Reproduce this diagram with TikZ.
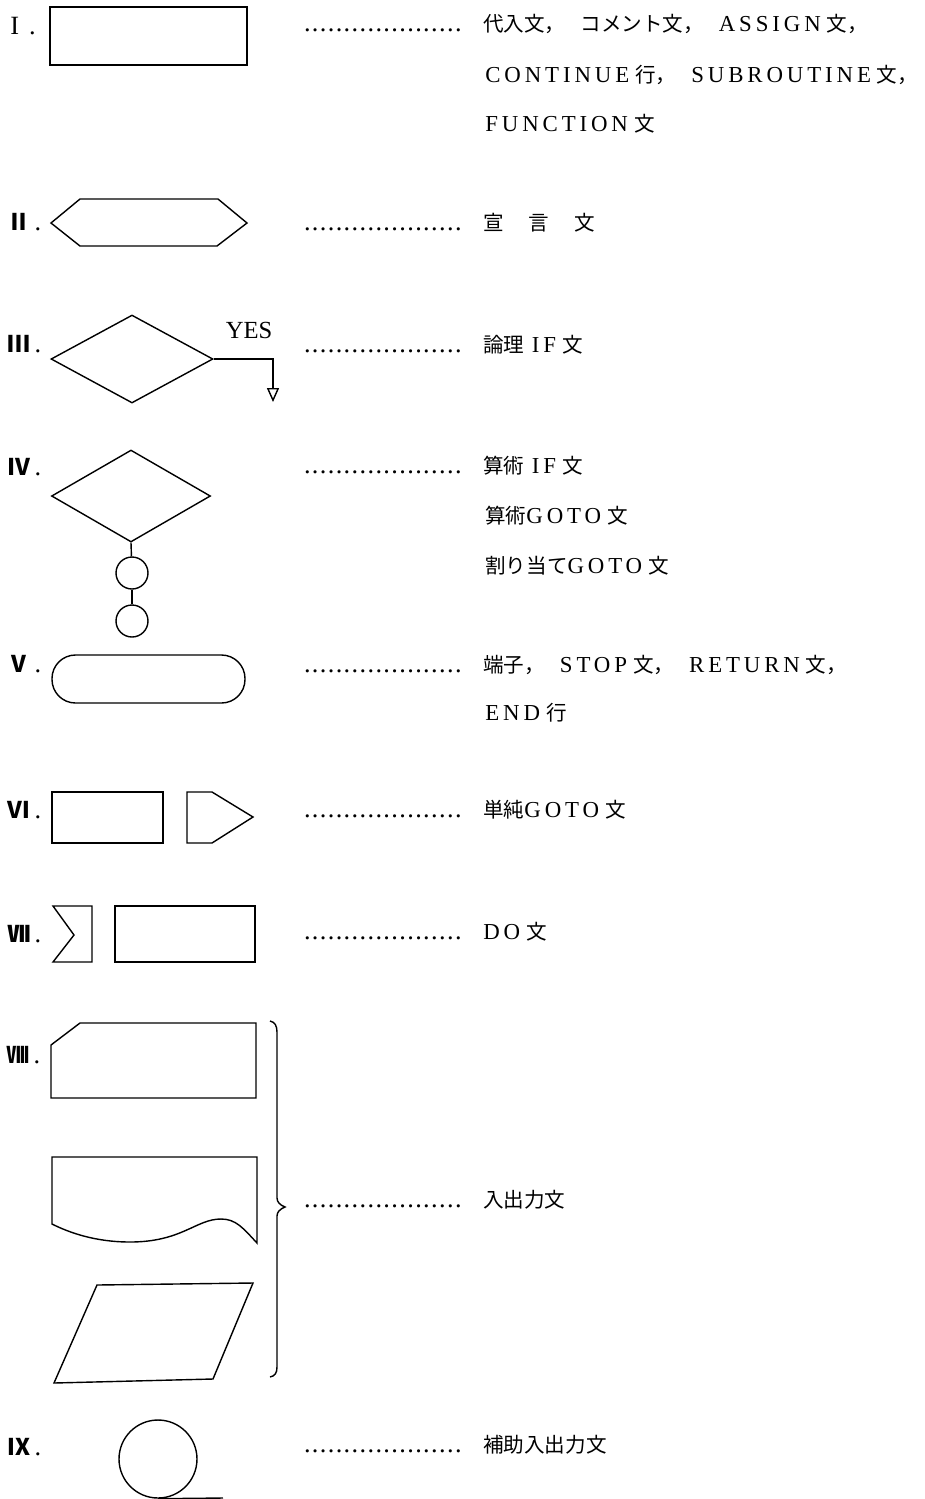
\documentclass[tikz,border=0pt]{standalone}
\usepackage{fontspec}
\setmainfont{Liberation Serif}[LetterSpace=17]
\newfontfamily\jp{Noto Sans CJK JP}[Scale=0.9]
\newfontfamily\plainserif{Liberation Serif}
\usepackage{tikz}
\usetikzlibrary{arrows.meta, positioning, shapes.geometric}
\newcommand{\dotrow}{\hbox to 3.18cm{\plainserif\fontsize{15}{16}\selectfont\leaders\hbox to 0.159cm{\hss.\hss}\hfill}}
\newcommand{\numlabel}[1]{{\jp\fontsize{14.5}{16}\selectfont\bfseries #1}{\plainserif\fontsize{15}{16}\selectfont\,.}}
\newcommand{\jw}[1]{\hspace{0.12cm}{\jp #1}}
\newcommand{\cg}{\hspace{0.3cm}}

\begin{document}
\begin{tikzpicture}[x=0.02cm, y=-0.02cm,
    every node/.style={inner sep=0pt, anchor=base west, font=\fontsize{13}{15}\selectfont},
    sym/.style={draw, line width=0.8pt}]
\useasboundingbox (0,0) rectangle (925,1499);

% symbols
\draw[sym] (50,7) rectangle (247,65);
\draw[sym] (51,223) -- (80,199) -- (218,199) -- (247,223) -- (217,246) -- (80,246) -- cycle;

\node (logic) [sym, diamond, anchor=center, minimum width=3.24cm, minimum height=1.76cm] at (132,359) {};
\coordinate (yesend) at (273,402);
\draw[sym, -{Triangle[open, length=0.28cm, width=0.24cm]}] (logic.east) -| (yesend);
\node (yes) [anchor=base, font=\plainserif\fontsize{14}{16}\selectfont] at (249,338) {YES};

\node (arith) [sym, diamond, anchor=center, minimum width=3.18cm, minimum height=1.84cm] at (131,496) {};
\node (label1) [sym, circle, anchor=center, minimum size=0.64cm] at (132,573) {};
\node (label2) [sym, circle, anchor=center, minimum size=0.64cm] at (132,621) {};
\draw[sym] (arith.south) -- (label1);
\draw[sym] (label1) -- (label2);

\draw[sym, rounded corners=0.47cm] (52,655) rectangle (245,703);

\draw[sym] (52,792) rectangle (163,843);
\draw[sym] (187,792) -- (212,792) -- (253,817) -- (212,843) -- (187,843) -- cycle;

\draw[sym] (53,906) -- (92,906) -- (92,962) -- (53,962) -- (74,935) -- cycle;
\draw[sym] (115,906) rectangle (255,962);

\draw[sym] (51,1045) -- (80,1023) -- (256,1023) -- (256,1098) -- (51,1098) -- cycle;
\draw[sym] (52,1157) -- (257,1157) -- (257,1243)
    .. controls (243,1228) and (236,1219) .. (221,1219)
    .. controls (196,1219) and (182,1242) .. (130,1242)
    .. controls (96,1242) and (70,1233) .. (52,1224) -- cycle;
\draw[sym] (97,1285) -- (253,1283) -- (213,1379) -- (54,1383) -- cycle;
\draw[sym] (270,1021) .. controls (275,1022) and (277,1026) .. (277,1032) -- (277,1198)
    .. controls (277,1202) and (280,1205) .. (285,1207)
    .. controls (280,1209) and (277,1212) .. (277,1216) -- (277,1367)
    .. controls (277,1373) and (275,1376) .. (270,1377);

\node (tape) [sym, circle, anchor=center, minimum size=1.56cm] at (158,1459) {};
\coordinate (tapeend) at (223,1498);
\draw[sym] (tape.south) -- (tapeend);

% numbers
\node (n1) at (10,34) {\plainserif\fontsize{15}{16}\selectfont I\hspace{0.2cm}.};
\node (n2) at (7,230) {\numlabel{Ⅱ}};
\node (n3) at (7,352) {\numlabel{Ⅲ}};
\node (n4) at (7,475) {\numlabel{Ⅳ}};
\node (n5) at (7,672) {\numlabel{Ⅴ}};
\node (n6) at (7,818) {\numlabel{Ⅵ}};
\node (n7) at (7,942) {\numlabel{Ⅶ}};
\node (n8) at (6,1063) {\numlabel{Ⅷ}};
\node (n9) at (7,1455) {\numlabel{Ⅸ}};

% texts
\node (t1) at (303,31) {\dotrow\hspace{0.42cm}{\jp 代入文，}\cg{\jp コメント文，}\cg ASSIGN\jw{文，}};
\node (t1b) at (485,82) {CONTINUE\jw{行，}\cg SUBROUTINE\jw{文，}};
\node (t1c) at (485,131) {FUNCTION\jw{文}};
\node (t2) at (303,230) {\dotrow\hspace{0.42cm}{\jp 宣\hspace{0.5cm}言\hspace{0.5cm}文}};
\node (t3) at (303,352) {\dotrow\hspace{0.42cm}{\jp 論理}\hspace{0.15cm}IF\jw{文}};
\node (t4) at (303,473) {\dotrow\hspace{0.42cm}{\jp 算術}\hspace{0.15cm}IF\jw{文}};
\node (t4b) at (485,523) {{\jp 算術}GOTO\jw{文}};
\node (t4c) at (485,573) {{\jp 割り当て}GOTO\jw{文}};
\node (t5) at (303,672) {\dotrow\hspace{0.42cm}{\jp 端子，}\cg STOP\jw{文，}\cg RETURN\jw{文，}};
\node (t5b) at (485,720) {END\jw{行}};
\node (t6) at (303,817) {\dotrow\hspace{0.42cm}{\jp 単純}GOTO\jw{文}};
\node (t7) at (303,939) {\dotrow\hspace{0.42cm}DO\jw{文}};
\node (t8) at (303,1207) {\dotrow\hspace{0.42cm}{\jp 入出力文}};
\node (t9) at (303,1452) {\dotrow\hspace{0.42cm}{\jp 補助入出力文}};
\end{tikzpicture}
\end{document}
